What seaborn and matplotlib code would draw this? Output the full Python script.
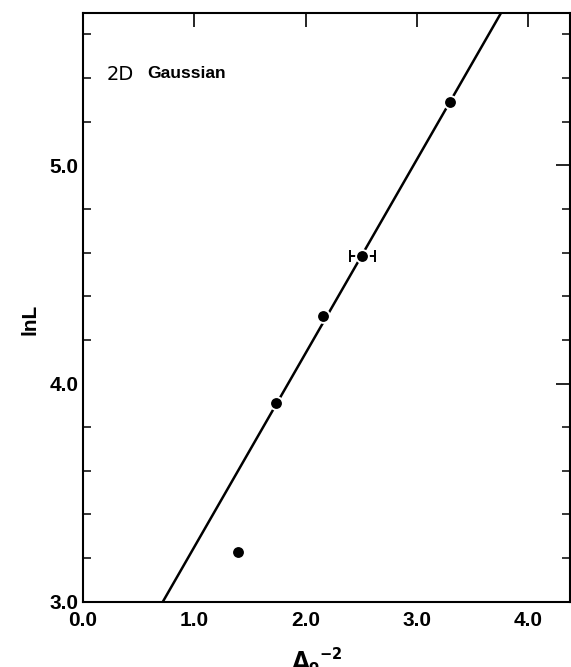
import numpy as np
import pandas as pd
import matplotlib
matplotlib.use("Agg")
import matplotlib.pyplot as plt
from matplotlib.ticker import MultipleLocator, FixedLocator
import seaborn as sns

# Measured points: inverse squared width vs. log of length
delta_inv_sq = [1.39, 1.73, 2.16, 2.51, 3.30]
ln_L = [3.23, 3.91, 4.31, 4.585, 5.29]
# horizontal uncertainty, only on one point
x_err = [0.0, 0.0, 0.0, 0.115, 0.0]

# straight-line fit: lnL = slope * x + intercept
fit_slope = 0.888
fit_intercept = 2.363

x_ticks = [0.0, 1.0, 2.0, 3.0, 4.0]
y_ticks = [3.0, 4.0, 5.0]

sns.set_theme(style="white")
plt.rcParams["font.family"] = ["Liberation Sans", "DejaVu Sans"]
plt.rcParams["text.color"] = "black"
plt.rcParams["xtick.color"] = "black"
plt.rcParams["ytick.color"] = "black"
plt.rcParams["axes.labelcolor"] = "black"

fig = plt.figure(figsize=(5.71, 6.67), dpi=100)
ax = fig.add_axes([0.1454, 0.0979, 0.8526, 0.8831])

df = pd.DataFrame({"x": delta_inv_sq, "y": ln_L, "xerr": x_err})

# fit line
fit_x = np.array([0.0, 4.4])
fit_df = pd.DataFrame({"x": fit_x, "y": fit_slope * fit_x + fit_intercept})
sns.lineplot(data=fit_df, x="x", y="y", ax=ax, color="black", lw=1.8,
             zorder=2)

# error bar
eb = df[df["xerr"] > 0]
ax.errorbar(eb["x"], eb["y"], xerr=eb["xerr"], fmt="none", ecolor="black",
            elinewidth=1.4, capsize=4.5, capthick=1.4, zorder=3)

# data points with a thin white halo that breaks the line
sns.scatterplot(data=df, x="x", y="y", ax=ax, color="black", s=85,
                edgecolor="white", linewidth=1.4, zorder=4)

ax.set_xlim(0.0, 4.375)
ax.set_ylim(3.0, 5.70)

ax.xaxis.set_major_locator(FixedLocator(x_ticks))
ax.yaxis.set_major_locator(FixedLocator(y_ticks))
ax.yaxis.set_minor_locator(MultipleLocator(0.2))

ax.set_xticklabels([f"{v:.1f}" for v in x_ticks], fontsize=15,
                   fontweight="bold")
ax.set_yticklabels([f"{v:.1f}" for v in y_ticks], fontsize=15,
                   fontweight="bold")

ax.tick_params(axis="both", which="major", direction="in", length=10,
               width=1.2, color="black", top=True, right=True, pad=3,
               labelcolor="black")
ax.tick_params(axis="y", which="minor", direction="in", length=6,
               width=1.1, color="black", left=True, right=True)
ax.tick_params(axis="x", which="major", pad=7)

for sp in ax.spines.values():
    sp.set_color("black")
    sp.set_linewidth(1.5)

ax.set_xlabel("")
ax.set_ylabel("lnL", fontsize=15, fontweight="bold", color="black")
ax.yaxis.set_label_coords(-0.09, 0.48)

# panel label
ax.text(0.21, 5.415, "2D", fontsize=14, family="DejaVu Sans",
        color="black", va="center", ha="left")
ax.text(0.58, 5.42, "Gaussian", fontsize=12.5, fontweight="bold",
        color="black", va="center", ha="left")

# axis label at the bottom edge
fig.text(0.555, 1 - 645 / 667, r"$\mathbf{\Delta_o}^{\mathbf{-2}}$",
         fontsize=15, ha="center", va="top", color="black")

fig.savefig("out.png", dpi=100)
